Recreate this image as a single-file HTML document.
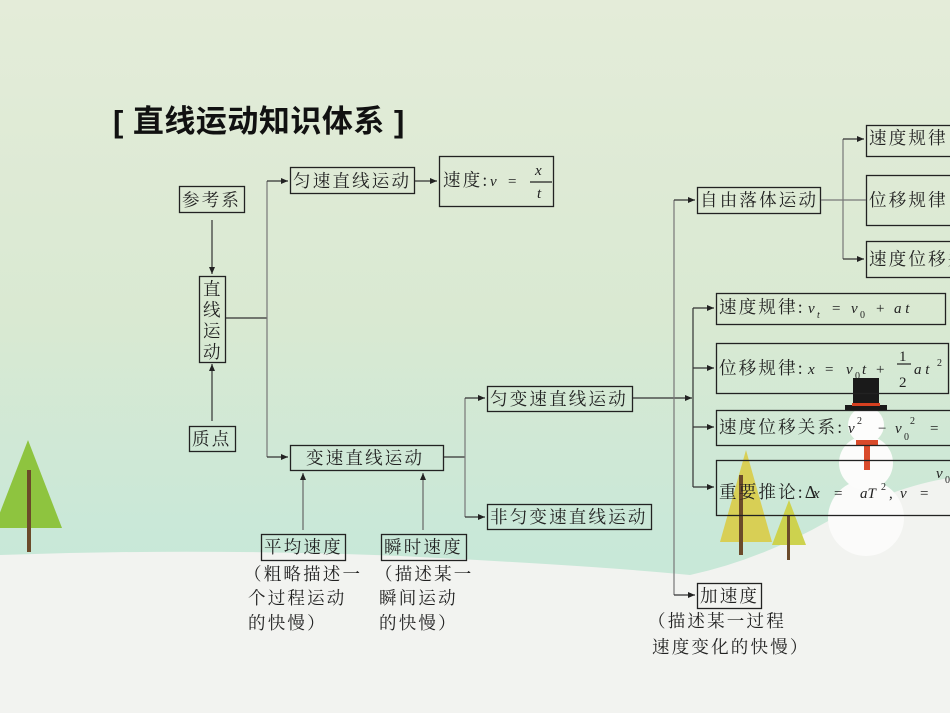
<!DOCTYPE html>
<html><head><meta charset="utf-8">
<style>
html,body{margin:0;padding:0;width:950px;height:713px;overflow:hidden}
svg{display:block}
text{font-family:"Liberation Serif","Noto Serif CJK SC",serif;font-size:17.5px;letter-spacing:2.2px;fill:#222}
.m{font-style:italic;font-size:15px;letter-spacing:0}
.s{font-size:10px;letter-spacing:0}
.f{font-size:15px;letter-spacing:0}
.t{font-family:"Liberation Sans","Noto Sans CJK SC",sans-serif;font-weight:bold;font-size:31px;letter-spacing:0.5px;fill:#111}
</style></head><body>
<svg width="950" height="713" viewBox="0 0 950 713" xmlns="http://www.w3.org/2000/svg">
<defs>
<linearGradient id="bg" x1="0" y1="0" x2="0" y2="1">
<stop offset="0" stop-color="#e4ecd9"/>
<stop offset="0.45" stop-color="#d9e9d2"/>
<stop offset="0.75" stop-color="#c9e8d8"/>
<stop offset="1" stop-color="#c4e6d8"/>
</linearGradient>
<marker id="a" markerWidth="8" markerHeight="8" refX="7" refY="4" orient="auto" markerUnits="userSpaceOnUse">
<path d="M0,1 L7,4 L0,7 Z" fill="#222"/></marker>
</defs>
<rect width="950" height="713" fill="url(#bg)"/>
<path d="M0,555 Q200,548 400,556 Q600,566 690,575 Q760,560 830,520 Q900,485 950,478 L950,713 L0,713 Z" fill="#f2f3f0"/>
<polygon points="28,440 62,528 -6,528" fill="#8ec43f"/>
<rect x="27" y="470" width="4" height="82" fill="#6b4a2a"/>
<polygon points="746,450 772,542 720,542" fill="#d8cf55"/>
<rect x="739" y="475" width="4" height="80" fill="#6b4a2a"/>
<polygon points="789,500 806,545 772,545" fill="#cdd24e"/>
<rect x="787" y="515" width="3" height="45" fill="#6b4a2a"/>
<circle cx="866" cy="518" r="38" fill="#fbfbfa"/>
<circle cx="866" cy="463" r="27" fill="#fcfcfb"/>
<circle cx="866" cy="425" r="18" fill="#fdfdfc"/>
<rect x="853" y="378" width="26" height="30" fill="#1a1a1a"/>
<rect x="845" y="405" width="42" height="5" fill="#1a1a1a"/>
<rect x="852" y="403" width="28" height="3" fill="#d64020"/>
<rect x="864" y="440" width="6" height="30" fill="#d94a2a"/>
<rect x="856" y="440" width="22" height="5" fill="#d94a2a"/>

<text x="113" y="132" class="t">[ 直线运动知识体系 ]</text>

<g fill="none" stroke="#222" stroke-width="1.3">
<rect x="179.5" y="186.5" width="65" height="26"/>
<rect x="199.5" y="276.5" width="26" height="86"/>
<rect x="189.5" y="426.5" width="46" height="25"/>
<rect x="290.5" y="167.5" width="124" height="26"/>
<rect x="439.5" y="156.5" width="114" height="50"/>
<rect x="290.5" y="445.5" width="153" height="25"/>
<rect x="487.5" y="386.5" width="145" height="25"/>
<rect x="487.5" y="504.5" width="164" height="25"/>
<rect x="261.5" y="534.5" width="84" height="26"/>
<rect x="381.5" y="534.5" width="85" height="26"/>
<rect x="697.5" y="187.5" width="123" height="26"/>
<rect x="697.5" y="583.5" width="64" height="25"/>
<rect x="866.5" y="125.5" width="90" height="31"/>
<rect x="866.5" y="175.5" width="90" height="50"/>
<rect x="866.5" y="241.5" width="90" height="36"/>
<rect x="716.5" y="293.5" width="229" height="31"/>
<rect x="716.5" y="343.5" width="232" height="50"/>
<rect x="716.5" y="410.5" width="240" height="35"/>
<rect x="716.5" y="460.5" width="240" height="55"/>
</g>
<g fill="none" stroke="#333" stroke-width="1.2">
<line x1="212" y1="220" x2="212" y2="274" marker-end="url(#a)"/>
<line x1="212" y1="421" x2="212" y2="364" marker-end="url(#a)"/>
<line x1="226" y1="318" x2="267" y2="318"/>
<line x1="267" y1="181" x2="267" y2="457" stroke="#777"/>
<line x1="267" y1="181" x2="288" y2="181" marker-end="url(#a)"/>
<line x1="267" y1="457" x2="288" y2="457" marker-end="url(#a)"/>
<line x1="415" y1="181" x2="437" y2="181" marker-end="url(#a)"/>
<line x1="444" y1="457" x2="465" y2="457"/>
<line x1="465" y1="398" x2="465" y2="517" stroke="#777"/>
<line x1="465" y1="398" x2="485" y2="398" marker-end="url(#a)"/>
<line x1="465" y1="517" x2="485" y2="517" marker-end="url(#a)"/>
<line x1="303" y1="530" x2="303" y2="473" stroke="#666" marker-end="url(#a)"/>
<line x1="423" y1="530" x2="423" y2="473" stroke="#666" marker-end="url(#a)"/>
<line x1="633" y1="398" x2="692" y2="398" marker-end="url(#a)"/>
<line x1="674" y1="200" x2="674" y2="595" stroke="#777"/>
<line x1="674" y1="200" x2="695" y2="200" marker-end="url(#a)"/>
<line x1="674" y1="595" x2="695" y2="595" marker-end="url(#a)"/>
<line x1="693" y1="308" x2="693" y2="487"/>
<line x1="693" y1="308" x2="714" y2="308" marker-end="url(#a)"/>
<line x1="693" y1="368" x2="714" y2="368" marker-end="url(#a)"/>
<line x1="693" y1="427" x2="714" y2="427" marker-end="url(#a)"/>
<line x1="693" y1="487" x2="714" y2="487" marker-end="url(#a)"/>
<line x1="821" y1="200" x2="866" y2="200" stroke="#777"/>
<line x1="843" y1="139" x2="843" y2="259" stroke="#777"/>
<line x1="843" y1="139" x2="864" y2="139" marker-end="url(#a)"/>
<line x1="843" y1="259" x2="864" y2="259" marker-end="url(#a)"/>
<line x1="530" y1="182" x2="552" y2="182" stroke="#222"/>
<line x1="897" y1="364" x2="911" y2="364" stroke="#222"/>
</g>

<text x="182" y="206">参考系</text>
<text x="203" y="295">直</text>
<text x="203" y="316">线</text>
<text x="203" y="337">运</text>
<text x="203" y="358">动</text>
<text x="192" y="445">质点</text>
<text x="293" y="187">匀速直线运动</text>
<text x="443" y="186">速度:</text><text x="490" y="186" class="m">v</text><text x="508" y="186" class="f">=</text>
<text x="535" y="175" class="m">x</text><text x="537" y="198" class="m">t</text>
<text x="306" y="464">变速直线运动</text>
<text x="490" y="405">匀变速直线运动</text>
<text x="490" y="523">非匀变速直线运动</text>
<text x="264" y="553">平均速度</text>
<text x="384" y="553">瞬时速度</text>
<text x="244" y="580">（粗略描述一</text>
<text x="248" y="604">个过程运动</text>
<text x="248" y="629">的快慢）</text>
<text x="375" y="580">（描述某一</text>
<text x="379" y="604">瞬间运动</text>
<text x="379" y="629">的快慢）</text>
<text x="700" y="206">自由落体运动</text>
<text x="700" y="602">加速度</text>
<text x="648" y="627">（描述某一过程</text>
<text x="652" y="653">速度变化的快慢）</text>
<text x="869" y="144">速度规律</text>
<text x="869" y="206">位移规律</text>
<text x="869" y="265">速度位移关</text>
<text x="719" y="313">速度规律:</text><text x="808" y="313" class="m">v</text><text x="817" y="318" class="m" style="font-size:10px">t</text><text x="832" y="313" class="f">=</text><text x="851" y="313" class="m">v</text><text x="860" y="318" class="s">0</text><text x="876" y="313" class="f">+</text><text x="894" y="313" class="m">a t</text>
<text x="719" y="374">位移规律:</text><text x="808" y="374" class="m">x</text><text x="825" y="374" class="f">=</text><text x="846" y="374" class="m">v</text><text x="855" y="379" class="s">0</text><text x="862" y="374" class="m">t</text><text x="876" y="374" class="f">+</text><text x="899" y="361" class="f">1</text><text x="899" y="387" class="f">2</text><text x="914" y="374" class="m">a t</text><text x="937" y="366" class="s">2</text>
<text x="719" y="433">速度位移关系:</text><text x="848" y="433" class="m">v</text><text x="857" y="424" class="s">2</text><text x="878" y="433" class="f">−</text><text x="895" y="433" class="m">v</text><text x="904" y="440" class="s">0</text><text x="910" y="424" class="s">2</text><text x="930" y="433" class="f">=</text>
<text x="719" y="498">重要推论:Δ</text><text x="813" y="498" class="m">x</text><text x="834" y="498" class="f">=</text><text x="860" y="498" class="m">aT</text><text x="881" y="490" class="s">2</text><text x="889" y="498" class="f">,</text><text x="900" y="498" class="m">v</text><text x="920" y="498" class="f">=</text><text x="936" y="478" class="m">v</text><text x="945" y="483" class="s">0</text>
</svg>
</body></html>
